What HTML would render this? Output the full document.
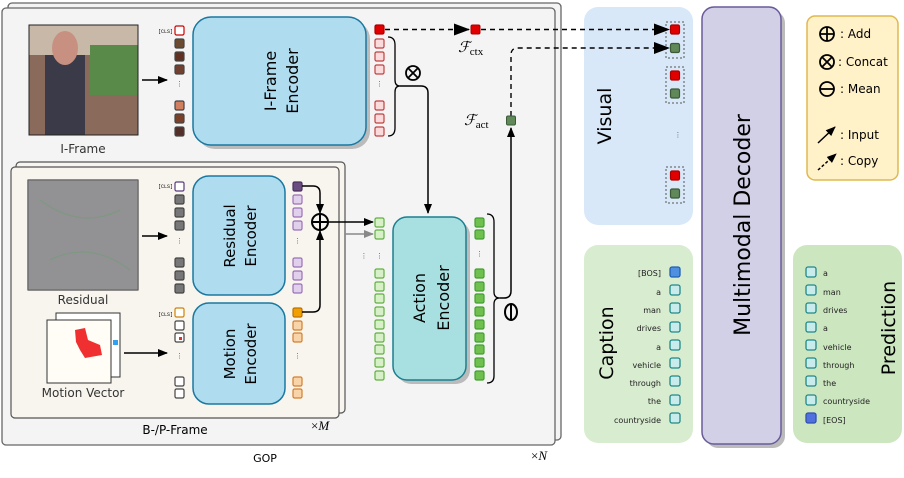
<!DOCTYPE html>
<html><head><meta charset="utf-8"><style>
html,body{margin:0;padding:0;background:#fff;}
svg{display:block;font-family:"DejaVu Sans","Liberation Sans",sans-serif;}
</style></head><body>
<svg width="904" height="478" viewBox="0 0 904 478" xmlns="http://www.w3.org/2000/svg">
<defs>
<marker id="ah" markerWidth="10" markerHeight="8" refX="9" refY="4" orient="auto" markerUnits="userSpaceOnUse"><path d="M0,0 L10,4 L0,8 z" fill="#000"/></marker>
<marker id="ahg" markerWidth="10" markerHeight="8" refX="9" refY="4" orient="auto" markerUnits="userSpaceOnUse"><path d="M0,0 L10,4 L0,8 z" fill="#888"/></marker>
<marker id="ahs" markerWidth="16" markerHeight="12" refX="15" refY="6" orient="auto" markerUnits="userSpaceOnUse"><path d="M0,0 L16,6 L0,12 z" fill="#000"/></marker>
</defs>
<!-- GOP -->
<rect x="8" y="3" width="553" height="437" rx="4" fill="#f4f4f4" stroke="#666" stroke-width="1.3"/>
<rect x="2" y="8" width="553" height="437" rx="4" fill="#f4f4f4" stroke="#666" stroke-width="1.3"/>
<text x="265" y="462" font-size="11" text-anchor="middle">GOP</text>
<text x="531" y="460" font-size="13" font-family="Liberation Serif">×<tspan font-style="italic">N</tspan></text>
<!-- I-frame -->
<rect x="29" y="25" width="109" height="110" fill="#8a6a5a" stroke="#222"/>
<rect x="29" y="25" width="109" height="30" fill="#c8b8a8"/>
<rect x="90" y="45" width="48" height="50" fill="#5a8a4a"/>
<rect x="45" y="55" width="40" height="80" fill="#3a3a48"/>
<ellipse cx="65" cy="48" rx="13" ry="17" fill="#c89080"/>
<rect x="29" y="25" width="109" height="110" fill="none" stroke="#222"/>
<text x="83" y="153" font-size="12" text-anchor="middle" fill="#333">I-Frame</text>
<line x1="142" y1="80" x2="167" y2="80" stroke="#000" stroke-width="1.5" marker-end="url(#ah)"/>
<text x="173" y="33" font-size="5" font-family="Liberation Mono" text-anchor="end">[CLS]</text>
<g stroke-width="1.2">
<rect x="175" y="26" width="9" height="9" rx="1.5" fill="#fff" stroke="#c00"/>
<rect x="175" y="39" width="9" height="9" rx="1.5" fill="#6a4a30" stroke="#444"/>
<rect x="175" y="52" width="9" height="9" rx="1.5" fill="#603020" stroke="#444"/>
<rect x="175" y="65" width="9" height="9" rx="1.5" fill="#704030" stroke="#444"/>
<rect x="175" y="101" width="9" height="9" rx="1.5" fill="#d08060" stroke="#444"/>
<rect x="175" y="114" width="9" height="9" rx="1.5" fill="#7a4028" stroke="#444"/>
<rect x="175" y="127" width="9" height="9" rx="1.5" fill="#503028" stroke="#444"/>
</g>
<text x="179.5" y="86" font-size="7" text-anchor="middle" fill="#444">⋮</text>
<rect x="197" y="21" width="173" height="128" rx="18" fill="#bbb"/>
<rect x="193" y="17" width="173" height="128" rx="18" fill="#b0dcef" stroke="#1a78a0" stroke-width="1.5"/>
<text transform="translate(280,81) rotate(-90)" font-size="16" text-anchor="middle"><tspan x="0" y="-4">I-Frame</tspan><tspan x="0" y="18">Encoder</tspan></text>
<g stroke="#c04040" stroke-width="1.2">
<rect x="375" y="25" width="9" height="9" rx="1.5" fill="#e00000" stroke="#a00"/>
<rect x="375" y="39" width="9" height="9" rx="1.5" fill="#fadada"/>
<rect x="375" y="52" width="9" height="9" rx="1.5" fill="#fadada"/>
<rect x="375" y="65" width="9" height="9" rx="1.5" fill="#fadada"/>
<rect x="375" y="101" width="9" height="9" rx="1.5" fill="#fadada"/>
<rect x="375" y="114" width="9" height="9" rx="1.5" fill="#fadada"/>
<rect x="375" y="127" width="9" height="9" rx="1.5" fill="#fadada"/>
</g>
<text x="379.5" y="86" font-size="7" text-anchor="middle" fill="#444">⋮</text>
<path d="M388,37 Q395,37 395,45 L395,80 Q395,86 400,86 Q395,86 395,92 L395,128 Q395,136 388,136" fill="none" stroke="#000" stroke-width="1.3"/>
<circle cx="413" cy="73" r="7" fill="none" stroke="#000" stroke-width="1.8"/>
<path d="M408,68 L418,78 M418,68 L408,78" stroke="#000" stroke-width="1.8"/>
<path d="M400,86 L421,86 Q428,86 428,93 L428,213" fill="none" stroke="#000" stroke-width="1.5" marker-end="url(#ah)"/>
<text x="458" y="52" font-size="15" font-family="Liberation Serif" font-style="italic">ℱ<tspan font-style="normal" font-size="11" dy="3">ctx</tspan></text>
<text x="464" y="125" font-size="15" font-family="Liberation Serif" font-style="italic">ℱ<tspan font-style="normal" font-size="11" dy="3">act</tspan></text>
<!-- B/P frame -->
<rect x="16" y="162" width="329" height="251" rx="4" fill="#f8f5ee" stroke="#555" stroke-width="1.2"/>
<rect x="11" y="167" width="328" height="251" rx="4" fill="#f8f5ee" stroke="#555" stroke-width="1.2"/>
<text x="175" y="434" font-size="12" text-anchor="middle">B-/P-Frame</text>
<text x="311" y="430" font-size="13" font-family="Liberation Serif">×<tspan font-style="italic">M</tspan></text>
<rect x="28" y="180" width="110" height="110" fill="#8a8888" stroke="#222"/>
<rect x="28" y="180" width="110" height="110" fill="#9a9aa0" opacity="0.5"/>
<path d="M40,200 Q80,230 120,210 M50,260 Q90,240 130,270" stroke="#7a9a80" fill="none"/>
<text x="83" y="304" font-size="12" text-anchor="middle" fill="#333">Residual</text>
<line x1="142" y1="236" x2="167" y2="236" stroke="#000" stroke-width="1.5" marker-end="url(#ah)"/>
<text x="173" y="188" font-size="5" font-family="Liberation Mono" text-anchor="end">[CLS]</text>
<g stroke="#444" stroke-width="1.2">
<rect x="175" y="182" width="9" height="9" rx="1.5" fill="#fff" stroke="#5a3a80"/>
<rect x="175" y="195" width="9" height="9" rx="1.5" fill="#777"/>
<rect x="175" y="208" width="9" height="9" rx="1.5" fill="#777"/>
<rect x="175" y="221" width="9" height="9" rx="1.5" fill="#777"/>
<rect x="175" y="258" width="9" height="9" rx="1.5" fill="#777"/>
<rect x="175" y="271" width="9" height="9" rx="1.5" fill="#777"/>
<rect x="175" y="284" width="9" height="9" rx="1.5" fill="#777"/>
</g>
<text x="179.5" y="243" font-size="7" text-anchor="middle" fill="#444">⋮</text>
<rect x="193" y="176" width="92" height="119" rx="16" fill="#b0dcef" stroke="#1a78a0" stroke-width="1.5"/>
<text transform="translate(239,236) rotate(-90)" font-size="15" text-anchor="middle"><tspan x="0" y="-4">Residual</tspan><tspan x="0" y="17">Encoder</tspan></text>
<g stroke="#9a70b8" stroke-width="1.2">
<rect x="293" y="182" width="9" height="9" rx="1.5" fill="#6a4c80" stroke="#4a3060"/>
<rect x="293" y="195" width="9" height="9" rx="1.5" fill="#e0d0ec"/>
<rect x="293" y="208" width="9" height="9" rx="1.5" fill="#e0d0ec"/>
<rect x="293" y="221" width="9" height="9" rx="1.5" fill="#e0d0ec"/>
<rect x="293" y="258" width="9" height="9" rx="1.5" fill="#e0d0ec"/>
<rect x="293" y="271" width="9" height="9" rx="1.5" fill="#e0d0ec"/>
<rect x="293" y="284" width="9" height="9" rx="1.5" fill="#e0d0ec"/>
</g>
<text x="297.5" y="243" font-size="7" text-anchor="middle" fill="#444">⋮</text>
<!-- motion -->
<rect x="56" y="313" width="64" height="64" fill="#fff" stroke="#333"/>
<rect x="47" y="320" width="64" height="63" fill="#fffdf5" stroke="#333"/>
<path d="M75,330 L85,328 L88,340 L100,345 L102,355 L85,358 L80,350 L76,342 z" fill="#f03030"/>
<rect x="113" y="340" width="5" height="5" fill="#30a0f0"/>
<text x="83" y="397" font-size="12" text-anchor="middle" fill="#333">Motion Vector</text>
<line x1="124" y1="353" x2="167" y2="353" stroke="#000" stroke-width="1.5" marker-end="url(#ah)"/>
<text x="173" y="316" font-size="5" font-family="Liberation Mono" text-anchor="end">[CLS]</text>
<g stroke="#444" stroke-width="1.2">
<rect x="175" y="308" width="9" height="9" rx="1.5" fill="#fff" stroke="#d08000"/>
<rect x="175" y="321" width="9" height="9" rx="1.5" fill="#fff"/>
<rect x="175" y="333" width="9" height="9" rx="1.5" fill="#fff"/>
<rect x="175" y="377" width="9" height="9" rx="1.5" fill="#fff"/>
<rect x="175" y="389" width="9" height="9" rx="1.5" fill="#fff"/>
</g>
<rect x="179" y="337" width="3" height="3" fill="#e03030"/>
<text x="179.5" y="358" font-size="7" text-anchor="middle" fill="#444">⋮</text>
<rect x="193" y="303" width="92" height="101" rx="16" fill="#b0dcef" stroke="#1a78a0" stroke-width="1.5"/>
<text transform="translate(239,354) rotate(-90)" font-size="15" text-anchor="middle"><tspan x="0" y="-4">Motion</tspan><tspan x="0" y="17">Encoder</tspan></text>
<g stroke="#d08030" stroke-width="1.2">
<rect x="293" y="308" width="9" height="9" rx="1.5" fill="#f0a000" stroke="#c07000"/>
<rect x="293" y="321" width="9" height="9" rx="1.5" fill="#f8d4a8"/>
<rect x="293" y="333" width="9" height="9" rx="1.5" fill="#f8d4a8"/>
<rect x="293" y="377" width="9" height="9" rx="1.5" fill="#f8d4a8"/>
<rect x="293" y="389" width="9" height="9" rx="1.5" fill="#f8d4a8"/>
</g>
<text x="297.5" y="358" font-size="7" text-anchor="middle" fill="#444">⋮</text>
<path d="M302,186 L313,186 Q320,186 320,193 L320,213" fill="none" stroke="#000" stroke-width="1.5" marker-end="url(#ah)"/>
<path d="M302,312 L313,312 Q320,312 320,305 L320,231" fill="none" stroke="#000" stroke-width="1.5" marker-end="url(#ah)"/>
<circle cx="320" cy="222" r="8" fill="none" stroke="#000" stroke-width="2"/>
<path d="M312,222 L328,222 M320,214 L320,230" stroke="#000" stroke-width="2"/>
<line x1="328" y1="222" x2="373" y2="222" stroke="#000" stroke-width="1.5" marker-end="url(#ah)"/>
<line x1="345" y1="234" x2="373" y2="234" stroke="#888" stroke-width="1.5" marker-end="url(#ahg)"/>
<!-- green tokens -->
<g fill="#d8f0c8" stroke="#60b040" stroke-width="1.2">
<rect x="375" y="218" width="9" height="9" rx="1.5"/><rect x="375" y="230" width="9" height="9" rx="1.5"/>
<rect x="375" y="269" width="9" height="9" rx="1.5"/><rect x="375" y="282" width="9" height="9" rx="1.5"/><rect x="375" y="294" width="9" height="9" rx="1.5"/><rect x="375" y="307" width="9" height="9" rx="1.5"/><rect x="375" y="320" width="9" height="9" rx="1.5"/><rect x="375" y="333" width="9" height="9" rx="1.5"/><rect x="375" y="345" width="9" height="9" rx="1.5"/><rect x="375" y="358" width="9" height="9" rx="1.5"/><rect x="375" y="371" width="9" height="9" rx="1.5"/>
</g>
<text x="364" y="258" font-size="7" text-anchor="middle" fill="#444">⋮</text>
<text x="379.5" y="258" font-size="7" text-anchor="middle" fill="#444">⋮</text>
<rect x="397" y="221" width="73" height="163" rx="14" fill="#bbb"/>
<rect x="393" y="217" width="73" height="163" rx="14" fill="#a8e0e2" stroke="#1a8090" stroke-width="1.5"/>
<text transform="translate(429,298) rotate(-90)" font-size="16" text-anchor="middle"><tspan x="0" y="-4">Action</tspan><tspan x="0" y="20">Encoder</tspan></text>
<g fill="#70c050" stroke="#40a030" stroke-width="1.2">
<rect x="475" y="218" width="9" height="9" rx="1.5"/><rect x="475" y="230" width="9" height="9" rx="1.5"/>
<rect x="475" y="269" width="9" height="9" rx="1.5"/><rect x="475" y="282" width="9" height="9" rx="1.5"/><rect x="475" y="294" width="9" height="9" rx="1.5"/><rect x="475" y="307" width="9" height="9" rx="1.5"/><rect x="475" y="320" width="9" height="9" rx="1.5"/><rect x="475" y="333" width="9" height="9" rx="1.5"/><rect x="475" y="345" width="9" height="9" rx="1.5"/><rect x="475" y="358" width="9" height="9" rx="1.5"/><rect x="475" y="371" width="9" height="9" rx="1.5"/>
</g>
<text x="479.5" y="256" font-size="7" text-anchor="middle" fill="#444">⋮</text>
<path d="M487,214 Q494,214 494,222 L494,292 Q494,298 500,298 Q494,298 494,304 L494,376 Q494,383 487,383" fill="none" stroke="#000" stroke-width="1.3"/>
<path d="M500,298 L504,298 Q511,298 511,291 L511,128" fill="none" stroke="#000" stroke-width="1.5" marker-end="url(#ah)"/>
<ellipse cx="511" cy="312" rx="6" ry="8" fill="#f4f4f4" stroke="#000" stroke-width="2"/>
<line x1="511" y1="304" x2="511" y2="320" stroke="#000" stroke-width="2"/>
<!-- Visual -->
<rect x="584" y="7" width="109" height="218" rx="14" fill="#d8e8f8"/>
<text transform="translate(611,116) rotate(-90)" font-size="19" text-anchor="middle">Visual</text>
<g fill="none" stroke="#555" stroke-dasharray="2,2" stroke-width="1">
<rect x="666" y="22" width="18" height="36"/><rect x="666" y="67" width="18" height="36"/><rect x="666" y="167" width="18" height="36"/>
</g>
<!-- copy lines (drawn over visual panel) -->
<line x1="385" y1="29.5" x2="469" y2="29.5" stroke="#000" stroke-width="1.4" stroke-dasharray="5,4" marker-end="url(#ahs)"/>
<rect x="471" y="25" width="9" height="9" rx="1.5" fill="#e00000" stroke="#a00"/>
<line x1="481" y1="29.5" x2="669" y2="29.5" stroke="#000" stroke-width="1.4" stroke-dasharray="5,4" marker-end="url(#ahs)"/>
<path d="M511,116 L511,55 Q511,48 518,48 L669,48" fill="none" stroke="#000" stroke-width="1.4" stroke-dasharray="5,4" marker-end="url(#ahs)"/>
<rect x="506.5" y="116" width="9" height="9" rx="1.5" fill="#608858" stroke="#3a5a38"/>
<g stroke-width="1.2">
<rect x="670.5" y="25" width="9" height="9" rx="1.5" fill="#e00000" stroke="#a00"/>
<rect x="670.5" y="43.5" width="9" height="9" rx="1.5" fill="#608858" stroke="#3a5a38"/>
<rect x="670.5" y="71" width="9" height="9" rx="1.5" fill="#e00000" stroke="#a00"/>
<rect x="670.5" y="89" width="9" height="9" rx="1.5" fill="#608858" stroke="#3a5a38"/>
<rect x="670.5" y="171" width="9" height="9" rx="1.5" fill="#e00000" stroke="#a00"/>
<rect x="670.5" y="189" width="9" height="9" rx="1.5" fill="#608858" stroke="#3a5a38"/>
</g>
<text x="678" y="137" font-size="7" text-anchor="middle" fill="#444">⋮</text>
<!-- Decoder -->
<rect x="706" y="11" width="79" height="437" rx="12" fill="#bbb"/>
<rect x="702" y="7" width="79" height="437" rx="12" fill="#d2d0e6" stroke="#6a5a9a" stroke-width="1.5"/>
<text transform="translate(750,225) rotate(-90)" font-size="22" text-anchor="middle">Multimodal Decoder</text>
<!-- Legend -->
<rect x="807" y="16" width="91" height="164" rx="8" fill="#fff1c8" stroke="#e0b850" stroke-width="1.5"/>
<g stroke="#000" stroke-width="1.8" fill="none">
<circle cx="827" cy="34" r="7"/><path d="M820,34 L834,34 M827,27 L827,41"/>
<circle cx="827" cy="62" r="7"/><path d="M822,57 L832,67 M832,57 L822,67"/>
<circle cx="827" cy="89" r="7"/><path d="M820,89 L834,89"/>
</g>
<g font-size="12"><text x="840" y="38">: Add</text><text x="838" y="66">: Concat</text><text x="840" y="93">: Mean</text><text x="840" y="139">: Input</text><text x="840" y="165">: Copy</text></g>
<line x1="818" y1="143" x2="835" y2="127" stroke="#000" stroke-width="1.5" marker-end="url(#ah)"/>
<line x1="818" y1="170" x2="836" y2="154" stroke="#000" stroke-width="1.5" stroke-dasharray="3,2" marker-end="url(#ah)"/>
<!-- Caption -->
<rect x="584" y="245" width="109" height="198" rx="14" fill="#d8ecd0"/>
<text transform="translate(613,343) rotate(-90)" font-size="19" text-anchor="middle">Caption</text>
<g font-size="8" text-anchor="end" fill="#222">
<text x="661" y="276">[BOS]</text><text x="661" y="295">a</text><text x="661" y="313">man</text><text x="661" y="331">drives</text><text x="661" y="350">a</text><text x="661" y="368">vehicle</text><text x="661" y="386">through</text><text x="661" y="404">the</text><text x="661" y="423">countryside</text>
</g>
<g fill="#c8ecec" stroke="#208888" stroke-width="1.3">
<rect x="670" y="267" width="10" height="10" rx="2" fill="#5090e0" stroke="#2060b0"/><rect x="670" y="285" width="10" height="10" rx="2"/><rect x="670" y="303" width="10" height="10" rx="2"/><rect x="670" y="322" width="10" height="10" rx="2"/><rect x="670" y="340" width="10" height="10" rx="2"/><rect x="670" y="358" width="10" height="10" rx="2"/><rect x="670" y="376" width="10" height="10" rx="2"/><rect x="670" y="395" width="10" height="10" rx="2"/><rect x="670" y="413" width="10" height="10" rx="2"/>
</g>
<!-- Prediction -->
<rect x="793" y="245" width="109" height="198" rx="14" fill="#cce6c0"/>
<text transform="translate(895,328) rotate(-90)" font-size="19" text-anchor="middle">Prediction</text>
<g font-size="8" fill="#222">
<text x="823" y="276">a</text><text x="823" y="295">man</text><text x="823" y="313">drives</text><text x="823" y="331">a</text><text x="823" y="350">vehicle</text><text x="823" y="368">through</text><text x="823" y="386">the</text><text x="823" y="404">countryside</text><text x="823" y="423">[EOS]</text>
</g>
<g fill="#c8ecec" stroke="#208888" stroke-width="1.3">
<rect x="806" y="267" width="10" height="10" rx="2"/><rect x="806" y="285" width="10" height="10" rx="2"/><rect x="806" y="303" width="10" height="10" rx="2"/><rect x="806" y="322" width="10" height="10" rx="2"/><rect x="806" y="340" width="10" height="10" rx="2"/><rect x="806" y="358" width="10" height="10" rx="2"/><rect x="806" y="376" width="10" height="10" rx="2"/><rect x="806" y="395" width="10" height="10" rx="2"/><rect x="806" y="413" width="10" height="10" rx="2" fill="#5070e0" stroke="#3050b0"/>
</g>
</svg>
</body></html>
